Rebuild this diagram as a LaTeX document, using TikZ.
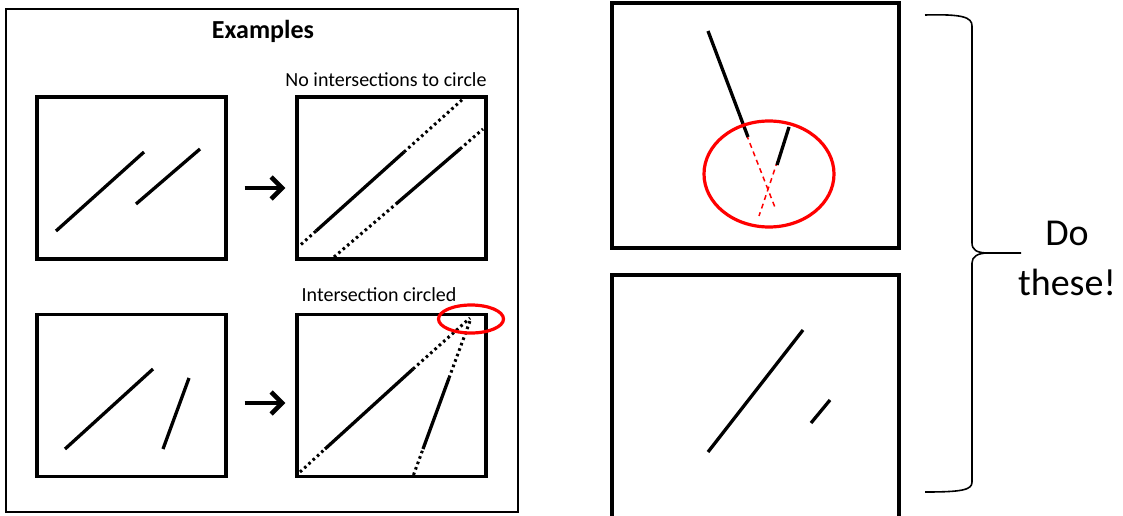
\documentclass[tikz,border=0pt]{standalone}
\usepackage{fontspec}
\setmainfont{Carlito}
\usetikzlibrary{arrows.meta}

\tikzset{
	panel/.style={draw, line width=3.3pt, minimum width=189pt, minimum height=162pt, inner sep=0pt},
	bigpanel/.style={draw, line width=3.6pt, minimum width=287pt, inner sep=0pt},
	seg/.style={line width=3.3pt},
	ext/.style={line width=3pt, dash pattern=on 2.6pt off 3.2pt},
	guess/.style={red, line width=1.5pt, dash pattern=on 5pt off 4pt},
	ring/.style={red, line width=3.2pt},
	fatarrow/.style={line width=4.5pt, -{Straight Barb[length=11pt, width=22pt]}},
}

\begin{document}
\begin{tikzpicture}[x=1pt, y=-1pt]
	\useasboundingbox (0,0) rectangle (1123,516);
	\clip (0,0) rectangle (1123,516);
	% Frames and titles:
	\node[draw, line width=2.7pt, minimum width=512pt, minimum height=503pt] (frame) at (262,260.5) {};
	\node[font=\fontsize{26}{30}\selectfont\bfseries] (title) at (263,31) {Examples};
	\node[panel] (exA) at (131.5,178) {};
	\node[panel] (exB) at (391.5,178) {};
	\node[panel] (exC) at (131.5,395.5) {};
	\node[panel] (exD) at (391.5,395.5) {};
	\node[font=\fontsize{20}{24}\selectfont] (noint) at (386,80) {No intersections to circle};
	\node[font=\fontsize{20}{24}\selectfont] (yesint) at (379,295) {Intersection circled};
	\draw[fatarrow, shorten <=17pt, shorten >=10pt] ([yshift=-10pt]exA.east) -- ([yshift=-10pt]exB.west);
	\draw[fatarrow, shorten <=17pt, shorten >=10pt] ([yshift=-7.5pt]exC.east) -- ([yshift=-7.5pt]exD.west);
	% Top example: parallel lines
	\draw[seg] (56,231) -- (144,152);
	\draw[seg] (136,204) -- (200,149);
	\draw[ext] (301,244.5) -- (316,231);
	\draw[seg] (316,231) -- (404,152);
	\draw[ext] (404,152) -- (463,99);
	\draw[ext] (334,257) -- (396,204);
	\draw[seg] (396,204) -- (460,149);
	\draw[ext] (460,149) -- (483,129);
	% Bottom example: lines meeting
	\draw[seg] (65,449) -- (153,369);
	\draw[seg] (163,449) -- (189,378);
	\draw[ext] (300,472) -- (325,449);
	\draw[seg] (325,449) -- (413,369);
	\draw[ext] (413,369) -- (470,318);
	\draw[ext] (413.5,475) -- (423,449);
	\draw[seg] (423,449) -- (449,378);
	\draw[ext] (449,378) -- (470,321);
	\draw[ring] (471,319) ellipse (32.5 and 14);
	% Exercises:
	\node[bigpanel, minimum height=245pt] (doA) at (755.5,125.5) {};
	\node[bigpanel, minimum height=265pt] (doB) at (755.5,407.5) {};
	\draw[guess] (740,118) -- (776,210);
	\draw[guess] (789,127) -- (759,216);
	\draw[seg] (708,31) -- (748,137);
	\draw[seg] (777,165) -- (789,127);
	\draw[ring] (769,174) ellipse (65 and 53);
	\draw[seg] (708,452) -- (803,330);
	\draw[seg] (811,423) -- (830,400);
	% Brace and note
	\draw[line width=1.6pt] (925,15) .. controls (962,14) and (972,17) .. (972,26) -- (972,243) .. controls (972,250) and (977,253) .. (988,253) -- (1021,253);
	\draw[line width=1.6pt] (988,253) .. controls (977,253) and (972,257) .. (972,263) -- (972,482) .. controls (972,490) and (962,492) .. (925,492);
	\node[font=\fontsize{38}{50}\selectfont, align=center] (note) at (1067,258) {Do\\these!};
\end{tikzpicture}
\end{document}
